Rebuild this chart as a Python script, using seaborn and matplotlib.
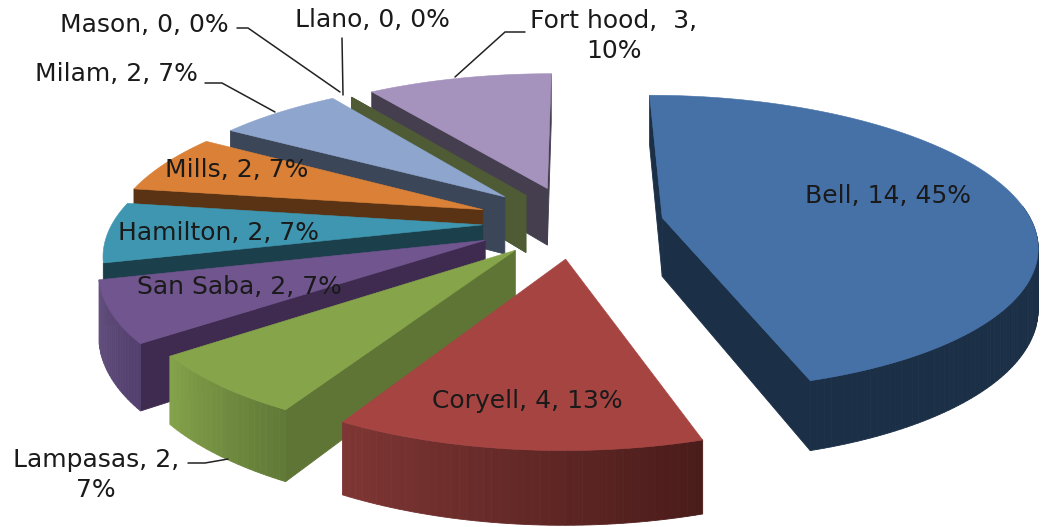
import numpy as np
import matplotlib
matplotlib.use("Agg")
import matplotlib.pyplot as plt
from matplotlib.colors import to_rgb
import seaborn as sns

# ---- data ----
names = ["Bell", "Coryell", "Lampasas", "San Saba", "Hamilton", "Mills", "Milam", "Mason", "Llano", "Fort hood"]
values = [14, 4, 2, 2, 2, 2, 2, 0, 0, 3]
percents = [45, 13, 7, 7, 7, 7, 7, 0, 0, 10]

# ---- style ----
top_cols = ["#4571A7", "#A64442", "#86A44A", "#71558F", "#3F96B0", "#DA8137", "#8EA5CE", "#4E5B35", "#4E5B35", "#A592BD"]
wall_cols = ["#1B2F47", "#6B2C2B", "#5F7535", "#3F2B50", "#1B3F4B", "#5A3314", "#3B4659", "#4E5B35", "#4E5B35", "#453E4E"]
arc_left = ["#1B2F47", "#7E3634", "#84A24A", "#64507F", "#1B3F4B", "#5A3314", "#3B4659", "#4E5B35", "#4E5B35", "#453E4E"]
arc_right = ["#1B2F47", "#4A1C1A", "#617A37", "#54406E", "#1B3F4B", "#5A3314", "#3B4659", "#4E5B35", "#4E5B35", "#453E4E"]
explode = [0.24, 0.24, 0.24, 0.265, 0.25, 0.27, 0.27, 0.24, 0.24, 0.26]
no_rim = {"Hamilton"}
draw_order = [0, 9, 8, 7, 6, 5, 4, 3, 2, 1]

CX, CY, A, B, K, DEPTH = 575, 223, 370, 145, 0.17, 59

sns.set_theme(style="white")
plt.rcParams["font.family"] = ["DejaVu Sans"]


def project(u, v, drop=0.0):
    w = 1 + K * v
    return CX + A * u / w, CY - B * v / w + drop / w


fig = plt.figure(figsize=(10.42, 5.27), dpi=100)
ax = fig.add_axes([0, 0, 1, 1])
ax.set_xlim(0, 1042)
ax.set_ylim(527, 0)
ax.axis("off")

vals = np.array(values, float)
edges = np.concatenate([[0], np.cumsum(vals)]) / vals.sum() * 2 * np.pi


def quad(u0, v0, u1, v1, color):
    xa, ya = project(u0, v0)
    xb, yb = project(u1, v1)
    xc, yc = project(u1, v1, DEPTH)
    xd, yd = project(u0, v0, DEPTH)
    ax.fill([xa, xb, xc, xd], [ya, yb, yc, yd], color=color, lw=0.6, ec=color, zorder=2)


for i in draw_order:
    t0, t1 = edges[i], edges[i + 1]
    tm = (t0 + t1) / 2
    ou, ov = explode[i] * np.sin(tm), explode[i] * np.cos(tm)
    n = max(2, int(np.degrees(t1 - t0)))
    th = np.linspace(t0, t1, n + 1)
    au, av = ou + np.sin(th), ov + np.cos(th)

    if values[i] == 0:
        quad(ou, ov, au[0], av[0], wall_cols[i])
        continue

    px, py = project(np.r_[ou, au], np.r_[ov, av])
    gx, gy = px.mean(), py.mean()

    # radial walls: draw those whose outward normal points down the screen
    for eu, ev, ex, ey in ((au[0], av[0], px[1], py[1]), (au[-1], av[-1], px[-1], py[-1])):
        dx, dy = ex - px[0], ey - py[0]
        nx, ny = -dy, dx
        if nx * (gx - px[0]) + ny * (gy - py[0]) > 0:
            nx, ny = -nx, -ny
        if ny > 0:
            quad(ou, ov, eu, ev, wall_cols[i])

    # outer rim, shaded piece by piece
    l, r = np.array(to_rgb(arc_left[i])), np.array(to_rgb(arc_right[i]))
    if names[i] not in no_rim:
        for j in range(n):
            if np.cos(th[j]) + np.cos(th[j + 1]) < 0.15:
                f = 1 - j / max(n - 1, 1)
                quad(au[j], av[j], au[j + 1], av[j + 1], tuple(l * (1 - f) + r * f))

    # top face
    ax.fill(px, py, color=top_cols[i], lw=0.4, ec=top_cols[i], zorder=2)

labels = [f"{n}, {v}, {p}%" for n, v, p in zip(names, values, percents)]
FS = 18
TXT = "#1a1a1a"
pos = {
    0: (888, 196, "center"), 1: (527, 401, "center"),
    3: (239, 287, "center"), 4: (218, 233, "center"), 5: (237, 170, "center"),
    6: (116, 74, "center"), 7: (144, 25, "center"), 8: (372, 20, "center"),
}
for i, (x, y, ha) in pos.items():
    ax.text(x, y, labels[i], ha=ha, va="center", fontsize=FS, color=TXT, zorder=5)
ax.text(96, 475, f"{names[2]}, {values[2]},\n{percents[2]}%", ha="center", va="center",
        fontsize=FS, color=TXT, zorder=5, linespacing=1.3)
ax.text(614, 36, f"{names[9]},  {values[9]},\n{percents[9]}%", ha="center", va="center",
        fontsize=FS, color=TXT, zorder=5, linespacing=1.3)

leaders = [
    ([237, 248, 340], [28, 28, 92]),
    ([342, 343], [38, 95]),
    ([205, 222, 275], [83, 83, 112]),
    ([525, 505, 455], [32, 32, 77]),
    ([188, 205, 228], [463, 463, 459]),
]
for xs, ys in leaders:
    ax.plot(xs, ys, color="#222222", lw=1.1, zorder=3)

fig.savefig("out.png", dpi=100, facecolor="white")
